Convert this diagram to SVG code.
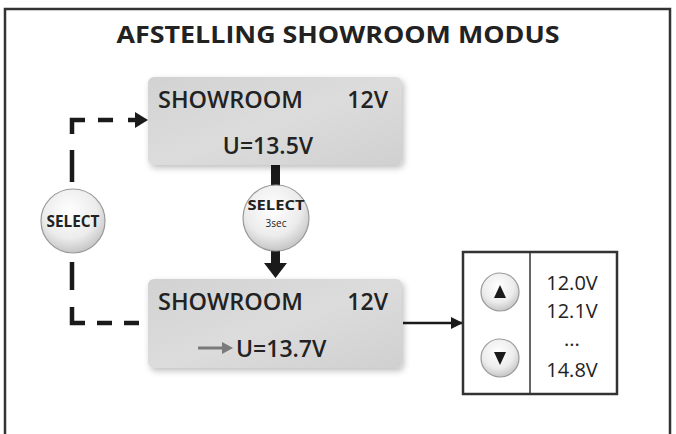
<svg xmlns="http://www.w3.org/2000/svg" width="676" height="434" viewBox="0 0 676 434">
<defs>
<linearGradient id="boxg" x1="0" y1="0" x2="1" y2="1">
<stop offset="0" stop-color="#d2d2d2"/>
<stop offset="0.5" stop-color="#dcdcdc"/>
<stop offset="1" stop-color="#d0d0d0"/>
</linearGradient>
<radialGradient id="btng" cx="0.45" cy="0.35" r="0.7">
<stop offset="0" stop-color="#ffffff"/>
<stop offset="0.6" stop-color="#ececec"/>
<stop offset="1" stop-color="#bdbdbd"/>
</radialGradient>
<filter id="sh" x="-10%" y="-10%" width="125%" height="130%">
<feDropShadow dx="2" dy="3" stdDeviation="3" flood-color="#000" flood-opacity="0.25"/>
</filter>
<marker id="ah" viewBox="0 0 12 12" refX="11" refY="6" markerWidth="12" markerHeight="12" markerUnits="userSpaceOnUse" orient="auto">
<path d="M0,0 L12,6 L0,12 Z" fill="#1a1a1a"/>
</marker>
</defs>
<style>
.frame{fill:none;stroke:#333;stroke-width:2.5}
.box{fill:url(#boxg);filter:url(#sh)}
.t{font-family:"Open Sans","Noto Sans","DejaVu Sans",sans-serif;fill:#222}
.big{font-size:23px;font-weight:600}
.val{font-size:20px;font-weight:400}
.btn{fill:url(#btng);stroke:#9a9a9a;stroke-width:1.2}
.bt{font-family:"Open Sans","Noto Sans","DejaVu Sans",sans-serif;font-weight:700;fill:#222}
.dash{fill:none;stroke:#1a1a1a;stroke-width:4.5}
.ln{fill:none;stroke:#1a1a1a;stroke-width:2.5}
</style>
<path class="frame" d="M5,434 V9 H670 V434"/>
<text class="t" x="338" y="43" text-anchor="middle" font-size="24" font-weight="700" textLength="443" lengthAdjust="spacingAndGlyphs">AFSTELLING SHOWROOM MODUS</text>

<g id="connectors">
<path class="dash" d="M72,134 V120 H85"/>
<path class="dash" d="M98,120 H113"/>
<path class="dash" d="M128,120 H138"/>
<path d="M135,112 L148,120 L135,128 Z" fill="#1a1a1a"/>
<path class="dash" d="M72,150 V182"/>
<path class="dash" d="M72,262 V290"/>
<path class="dash" d="M72,307 V323 H85"/>
<path class="dash" d="M97,323 H112"/>
<path class="dash" d="M124,323 H139"/>
<rect x="271" y="164" width="9" height="22" fill="#1a1a1a"/>
<path d="M271,250 H280 V263 H287 L275.5,278 L264,263 H271 Z" fill="#1a1a1a"/>
<path class="ln" d="M403,323 H462" marker-end="url(#ah)"/>
</g>

<g id="box-top">
<rect class="box" x="148" y="77" width="254" height="88" rx="6"/>
<text class="t big" x="158" y="108" textLength="145" lengthAdjust="spacingAndGlyphs">SHOWROOM</text>
<text class="t big" x="388" y="108" text-anchor="end">12V</text>
<text class="t big" x="268" y="154" text-anchor="middle">U=13.5V</text>
</g>

<g id="box-bottom">
<rect class="box" x="148" y="279" width="254" height="89" rx="6"/>
<text class="t big" x="158" y="310" textLength="145" lengthAdjust="spacingAndGlyphs">SHOWROOM</text>
<text class="t big" x="388" y="310" text-anchor="end">12V</text>
<path d="M198,348 H224" stroke="#7a7a7a" stroke-width="3"/>
<path d="M222,342 L233,348 L222,354 Z" fill="#7a7a7a"/>
<text class="t big" x="236" y="357">U=13.7V</text>
</g>

<g id="btn-select">
<circle class="btn" cx="73" cy="221" r="32"/>
<text class="bt" x="73" y="227" font-size="16" text-anchor="middle" textLength="53" lengthAdjust="spacingAndGlyphs">SELECT</text>
</g>

<g id="btn-select-3sec">
<circle class="btn" cx="276" cy="218" r="33"/>
<text class="bt" x="276" y="210" font-size="15" text-anchor="middle" textLength="57" lengthAdjust="spacingAndGlyphs">SELECT</text>
<text class="t" x="276" y="227" font-size="10" text-anchor="middle">3sec</text>
</g>

<g id="panel">
<rect x="463" y="252" width="154" height="142" fill="#fff" stroke="#333" stroke-width="2.5"/>
<line x1="530" y1="252" x2="530" y2="394" stroke="#333" stroke-width="1.5"/>
<circle class="btn" cx="500" cy="292" r="19"/>
<path d="M494,298 L500,285 L506,298 Z" fill="#1a1a1a"/>
<circle class="btn" cx="500" cy="358" r="19"/>
<path d="M494,352 L500,365 L506,352 Z" fill="#1a1a1a"/>
<text class="t val" x="572" y="290" text-anchor="middle">12.0V</text>
<text class="t val" x="572" y="318" text-anchor="middle">12.1V</text>
<text class="t val" x="572" y="346" text-anchor="middle" font-size="14">...</text>
<text class="t val" x="572" y="377" text-anchor="middle">14.8V</text>
</g>
</svg>
